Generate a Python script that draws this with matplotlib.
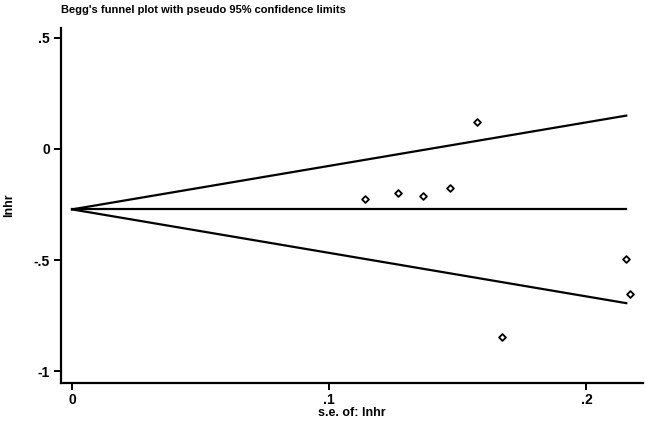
import matplotlib
matplotlib.use("Agg")
import matplotlib.pyplot as plt
import numpy as np

plt.rcParams['font.family'] = ['Liberation Sans', 'DejaVu Sans']

# Study data
se = [0.114, 0.1266, 0.1363, 0.147, 0.1576, 0.167, 0.2152, 0.2169]
lnhr = [-0.225, -0.197, -0.212, -0.176, 0.120, -0.847, -0.494, -0.655]

# Pooled estimate and funnel extent
theta = -0.272
se_max = 0.2155

xticks = [0, 0.1, 0.2]
xticklabels = ["0", ".1", ".2"]
yticks = [0.5, 0, -0.5, -1]
yticklabels = [".5", "0", "-.5", "-1"]

fig = plt.figure(figsize=(6.46, 4.21), dpi=100)
W, H = 646, 421
ax = fig.add_axes([61 / W, (H - 383) / H, (643 - 61) / W, (383 - 28) / H])

s_line = np.array([0, se_max])
ax.plot(s_line, theta + 1.96 * s_line, color='black', lw=1.6)
ax.plot(s_line, theta - 1.96 * s_line, color='black', lw=1.6)
ax.plot(s_line, [theta, theta], color='black', lw=1.6)

ax.scatter(se, lnhr, marker='D', s=12, facecolors='white', edgecolors='black',
           linewidths=1.3, zorder=3)

ax.set_xlim(-0.0043, 0.222)
ax.set_ylim(-1.054, 0.545)

ax.spines['top'].set_visible(False)
ax.spines['right'].set_visible(False)
for sp in ('left', 'bottom'):
    ax.spines[sp].set_linewidth(1.6)

ax.set_xticks(xticks)
ax.set_xticklabels(xticklabels)
ax.set_yticks(yticks)
ax.set_yticklabels(yticklabels)
ax.tick_params(axis='both', direction='out', length=5, width=1.4, pad=2,
               labelsize=10)
ax.tick_params(axis='y', pad=3)
for lab in ax.get_xticklabels() + ax.get_yticklabels():
    lab.set_fontweight('bold')

ax.set_xlabel("s.e. of: lnhr", fontsize=9, fontweight='bold', labelpad=0)
ax.set_ylabel("lnhr", fontsize=9, fontweight='bold', labelpad=13)

fig.text(61 / W, 1 - 10 / H, "Begg's funnel plot with pseudo 95% confidence limits",
         fontsize=8, fontweight='bold', ha='left', va='center')

fig.savefig("out.png", dpi=100)
